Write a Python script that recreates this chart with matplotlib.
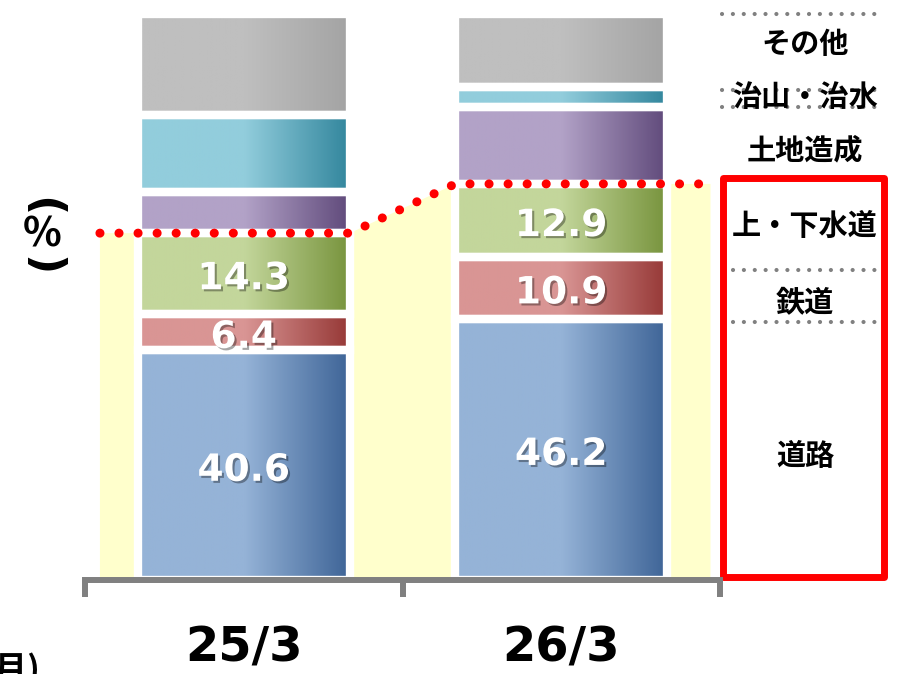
import numpy as np
import matplotlib
matplotlib.use("Agg")
import matplotlib.pyplot as plt
import matplotlib.patheffects as pe
from matplotlib.colors import LinearSegmentedColormap
from matplotlib.patches import Rectangle, Polygon

# data (% share)
years = ["25/3", "26/3"]
names = ["道路", "鉄道", "上・下水道", "土地造成", "治山・治水", "その他"]
road = [40.6, 46.2]
railway = [6.4, 10.9]
water = [14.3, 12.9]
land = [7.3, 13.6]
flood = [13.6, 3.5]
other = [17.8, 12.9]
series = [road, railway, water, land, flood, other]
n_labeled = 3   # value labels only on the lower three

# light -> dark gradient colours per segment
light = ["#95B3D7", "#D99594", "#C3D69B", "#B2A2C7", "#92CDDC", "#BFBFBF"]
dark = ["#3D6396", "#953735", "#77933C", "#5F497A", "#31859C", "#A3A3A3"]

plt.rcParams['font.family'] = ['DejaVu Sans', 'Noto Sans CJK JP']
CJK = ['Noto Sans CJK JP', 'DejaVu Sans']

fig = plt.figure(figsize=(8.97, 6.74), dpi=100)
ax = fig.add_axes([85 / 897, 94 / 674, 635 / 897, 580 / 674])

x = np.arange(len(years))
w = 0.668
grad = np.linspace(0, 1, 256).reshape(1, -1)

bottom = np.zeros(len(years))
for i, vals in enumerate(series):
    cmap = LinearSegmentedColormap.from_list(
        "g%d" % i, [(0, light[i]), (0.5, light[i]), (1, dark[i])])
    bars = ax.bar(x, vals, bottom=bottom, width=w, facecolor='none',
                  edgecolor='white', linewidth=6, zorder=3)
    for rect in bars:
        x0, y0 = rect.get_x(), rect.get_y()
        im = ax.imshow(grad, cmap=cmap, aspect='auto', zorder=2,
                       extent=[x0, x0 + rect.get_width(), y0, y0 + rect.get_height()])
        im.set_clip_path(rect)
    if i < n_labeled:
        for j, v in enumerate(vals):
            ax.text(x[j], bottom[j] + v / 2 - 1.0, "%.1f" % v, ha='center', va='center',
                    color='white', fontsize=27, fontweight='bold', zorder=6,
                    path_effects=[pe.SimplePatchShadow(offset=(1.5, -1.5), shadow_rgbFace='black', alpha=0.35),
                                  pe.Normal()])
    bottom = bottom + np.array(vals)

ax.set_xlim(-0.5, 1.5)
ax.set_ylim(0, 102.5)

# yellow band + red dotted line at the top of the lower three segments
level = np.array(road) + np.array(railway) + np.array(water)
xs = [-0.453, x[0] + w / 2, x[1] - w / 2, 1.47]
ys = [level[0], level[0], level[1], level[1]]
ax.add_patch(Polygon([(xs[0], 0)] + list(zip(xs, ys)) + [(xs[-1], 0)],
                     closed=True, facecolor='#FFFFCC', edgecolor='none', zorder=1))
ax.plot(xs, ys, color='#FF0000', lw=6.5, linestyle=(0, (0.01, 2.1)),
        dash_capstyle='round', zorder=7, clip_on=False)

# axis
for s in ['top', 'right', 'left']:
    ax.spines[s].set_visible(False)
ax.spines['bottom'].set_color('#808080')
ax.spines['bottom'].set_linewidth(4.3)
ax.spines['bottom'].set_zorder(8)
ax.set_yticks([])
ax.set_xticks(x)
ax.set_xticklabels(years, fontsize=34.5, fontweight='bold')
ax.set_xticks([-0.5, 0.5, 1.5], minor=True)
ax.tick_params(axis='x', which='major', length=0, pad=32)
ax.tick_params(axis='x', which='minor', direction='out', length=12, width=4.3, color='#808080')

# right side legend
legend_y = [22.0, 48.9, 62.5, 76.0, 85.3, 94.7]
for name, ly in zip(names, legend_y):
    ax.text(1.768, ly, name, ha='center', va='center', fontsize=21, fontweight='bold',
            family=CJK, clip_on=False, zorder=6)
for gy, gx0 in [(100.0, 1.506), (86.6, 1.506), (83.6, 1.506), (54.8, 1.541), (45.6, 1.541)]:
    ax.plot([gx0, 1.994], [gy, gy], color='#808080', lw=3, linestyle=(0, (0.01, 2.6)),
            dash_capstyle='round', clip_on=False, zorder=5)
ax.add_patch(Rectangle((1.511, 0.6), 0.507, level[1] + 0.4, fill=False, edgecolor='#FF0000',
                       linewidth=5, joinstyle='round', clip_on=False, zorder=5))

# unit labels: vertical "(%)"
fig.text(42 / 897, 1 - 207 / 674, "(", rotation=-90, ha='center', va='center',
         fontsize=32, fontweight='bold')
fig.text(42 / 897, 1 - 235 / 674, "%", ha='center', va='center', fontsize=29,
         fontweight='bold', family=CJK)
fig.text(42 / 897, 1 - 266 / 674, ")", rotation=-90, ha='center', va='center',
         fontsize=32, fontweight='bold')
fig.text(40 / 897, 1 - 652 / 674, "(年/月)", ha='right', va='top', fontsize=24,
         fontweight='bold', family=CJK)

fig.savefig("out.png", dpi=100)
